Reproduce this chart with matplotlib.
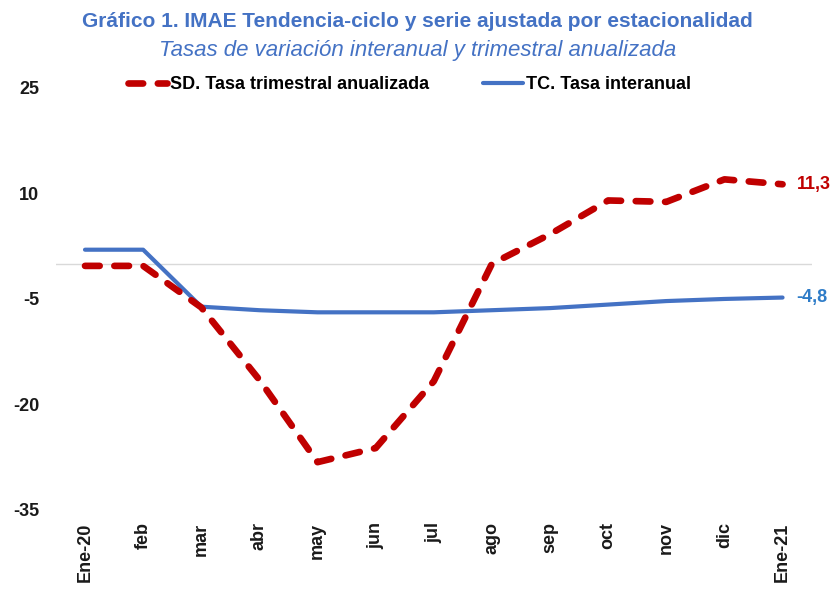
import matplotlib.pyplot as plt

months = ['Ene-20', 'feb', 'mar', 'abr', 'may', 'jun', 'jul',
          'ago', 'sep', 'oct', 'nov', 'dic', 'Ene-21']
sd_rate = [-0.3, -0.3, -6.2, -16.5, -28.2, -26.2, -16.7,
           0.0, 4.2, 9.0, 8.8, 12.0, 11.3]
tc_rate = [2.0, 2.0, -6.1, -6.6, -6.9, -6.9, -6.9,
           -6.6, -6.3, -5.8, -5.3, -5.0, -4.8]
yticks = [25, 10, -5, -20, -35]

RED = '#C00000'
BLUE = '#4472C4'
TITLE_BLUE = '#4472C4'

plt.rcParams['font.family'] = ['Liberation Sans', 'DejaVu Sans']

fig = plt.figure(figsize=(8.35, 5.9), dpi=100)
ax = fig.add_axes([0.067, 0.1356, 0.905, 0.7154])

x = list(range(len(months)))
ax.axhline(0, color='#D9D9D9', lw=1, zorder=1)
sd_line, = ax.plot(x, sd_rate, color=RED, lw=4.8, dashes=(2.2, 2.2),
                   dash_capstyle='round', solid_capstyle='round', zorder=3,
                   label='SD. Tasa trimestral anualizada')
tc_line, = ax.plot(x, tc_rate, color=BLUE, lw=3.0, solid_capstyle='round',
                   zorder=2, label='TC. Tasa interanual')

ax.set_xlim(-0.5, len(months) - 0.5)
ax.set_ylim(-35, 25)
ax.set_yticks(yticks)
ax.set_yticklabels([str(v) for v in yticks], fontsize=13, fontweight='bold',
                   color='#1A1A1A')
ax.set_xticks(x)
ax.set_xticklabels(months, rotation=90, fontsize=13, fontweight='bold',
                   color='#1A1A1A')
ax.tick_params(axis='both', length=0)
ax.tick_params(axis='y', pad=12)
ax.tick_params(axis='x', pad=9)
for s in ax.spines.values():
    s.set_visible(False)

# end-of-series value labels
ax.text(x[-1] + 0.24, sd_rate[-1], '11,3', color=RED, fontsize=13,
        fontweight='bold', va='center', ha='left')
ax.text(x[-1] + 0.24, tc_rate[-1], '-4,8', color='#2E7CC8', fontsize=13,
        fontweight='bold', va='center', ha='left')

fig.legend(handles=[sd_line, tc_line], loc='center', bbox_to_anchor=(0.49, 0.856),
           ncol=2, frameon=False, handlelength=2.2,
           handletextpad=0.15, columnspacing=3.0,
           prop={'weight': 'bold', 'size': 13})

fig.text(0.5, 0.964, 'Gráfico 1. IMAE Tendencia-ciclo y serie ajustada por estacionalidad',
         ha='center', va='center', fontsize=15, fontweight='bold', color=TITLE_BLUE)
fig.text(0.5, 0.915, 'Tasas de variación interanual y trimestral anualizada',
         ha='center', va='center', fontsize=16, style='italic', color=TITLE_BLUE)

fig.savefig('out.png', dpi=100)
